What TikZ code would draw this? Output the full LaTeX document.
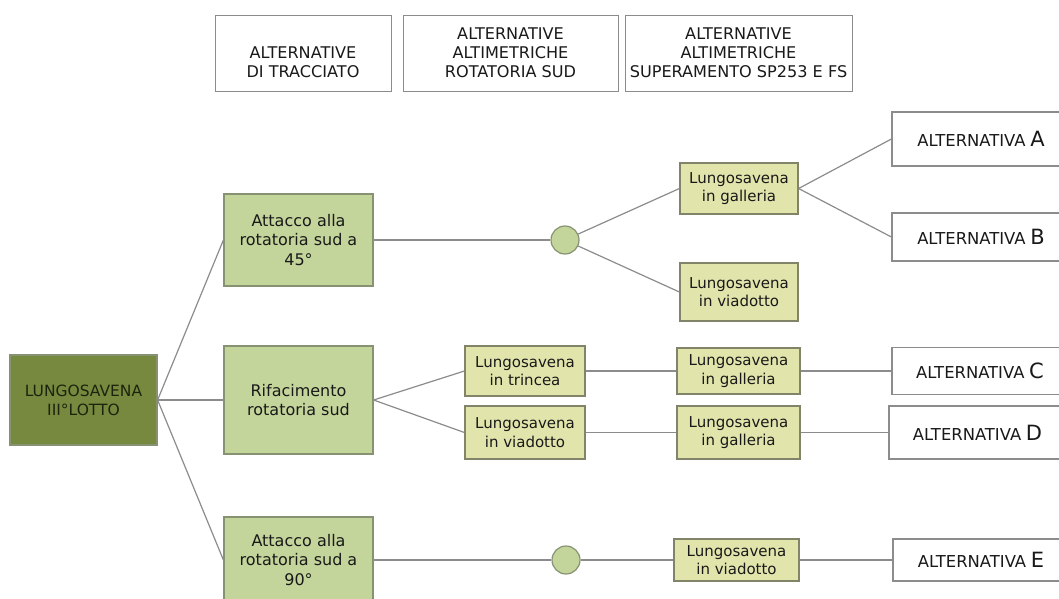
\documentclass[tikz,border=0pt]{standalone}
\usepackage{fontspec}
\setmainfont{DejaVu Sans}
\definecolor{rootfill}{RGB}{119,137,62}
\definecolor{roottext}{RGB}{28,36,14}
\definecolor{lonefill}{RGB}{196,213,155}
\definecolor{lonedraw}{RGB}{135,146,115}
\definecolor{ltwofill}{RGB}{226,229,171}
\definecolor{ltwodraw}{RGB}{130,132,105}
\definecolor{hdrdraw}{RGB}{140,140,140}
\definecolor{linecol}{RGB}{140,140,140}
\definecolor{txt}{RGB}{25,25,25}
\tikzset{
  base/.style={rectangle, inner sep=0pt, align=center, text=txt, line width=1.2pt,
    font=\fontsize{15}{18.5}\selectfont},
  hdrfont/.style={font=\fontsize{16.1}{19}\selectfont},
  hdr/.style={base, draw=hdrdraw, fill=white, line width=1pt, hdrfont},
  rootbox/.style={base, draw=lonedraw, fill=rootfill, text=roottext, font=\fontsize{15.5}{19}\selectfont},
  lone/.style={base, draw=lonedraw, fill=lonefill, font=\fontsize{16}{19.5}\selectfont},
  ltwo/.style={base, draw=ltwodraw, fill=ltwofill},
  altbox/.style={base, draw=hdrdraw, fill=white},
  knot/.style={circle, draw=lonedraw, fill=lonefill, line width=1.2pt, minimum size=28pt, inner sep=0pt},
  conn/.style={draw=linecol, line width=1.2pt}
}
\newcommand{\alttext}[1]{{\fontsize{16.4}{18}\selectfont ALTERNATIVA} {\fontsize{21}{21}\selectfont #1}}
\begin{document}
\begin{tikzpicture}[x=1pt,y=-1pt]
\useasboundingbox[fill=white] (0,0) rectangle (1059,598);
% headers
\node[hdr, minimum width=176pt, minimum height=76pt,
  label={[hdrfont, text=txt, align=center, inner sep=0pt, yshift=-9.5pt]center:ALTERNATIVE\\DI TRACCIATO}] (h1) at (303,53) {};
\node[hdr, minimum width=215pt, minimum height=76pt] (h2) at (510.5,53) {ALTERNATIVE\\ALTIMETRICHE\\ROTATORIA SUD};
\node[hdr, minimum width=227pt, minimum height=76pt] (h3) at (738.5,53) {ALTERNATIVE\\ALTIMETRICHE\\SUPERAMENTO SP253 E FS};
% root
\node[rootbox, minimum width=147pt, minimum height=90pt] (root) at (83.5,400) {LUNGOSAVENA\\III°LOTTO};
% level 1
\node[lone, minimum width=149pt, minimum height=92pt] (a45) at (298.5,240) {Attacco alla\\rotatoria sud a\\45°};
\node[lone, minimum width=149pt, minimum height=108pt] (rif) at (298.5,400) {Rifacimento\\rotatoria sud};
\node[lone, minimum width=149pt, minimum height=86pt] (a90) at (298.5,560) {Attacco alla\\rotatoria sud a\\90°};
% knots
\node[knot] (k1) at (565,240) {};
\node[knot] (k2) at (566,560) {};
% level 2
\node[ltwo, minimum width=118pt, minimum height=51pt] (gal1) at (739,188.5) {Lungosavena\\in galleria};
\node[ltwo, minimum width=118pt, minimum height=58pt] (via1) at (739,292) {Lungosavena\\in viadotto};
\node[ltwo, minimum width=120pt, minimum height=50pt] (trin) at (525,371) {Lungosavena\\in trincea};
\node[ltwo, minimum width=120pt, minimum height=53pt] (via2) at (525,432.5) {Lungosavena\\in viadotto};
\node[ltwo, minimum width=123pt, minimum height=46pt] (galC) at (738.5,371) {Lungosavena\\in galleria};
\node[ltwo, minimum width=123pt, minimum height=53pt] (galD) at (738.5,432.5) {Lungosavena\\in galleria};
\node[ltwo, minimum width=125pt, minimum height=42pt] (via3) at (736.5,560) {Lungosavena\\in viadotto};
% alternatives
\node[altbox, minimum width=178pt, minimum height=54pt] (altA) at (981,139) {\alttext{A}};
\node[altbox, minimum width=178pt, minimum height=48pt] (altB) at (981,237) {\alttext{B}};
\node[altbox, minimum width=176pt, minimum height=47pt] (altC) at (980,371) {\alttext{C}};
\node[altbox, minimum width=177pt, minimum height=53pt] (altD) at (977.5,432.5) {\alttext{D}};
\node[altbox, minimum width=176pt, minimum height=42pt] (altE) at (981,560) {\alttext{E}};
% connectors
\draw[conn] (root.east) -- (a45.west);
\draw[conn] (root.east) -- (rif.west);
\draw[conn] (root.east) -- (a90.west);
\draw[conn] (a45.east) -- (k1.west);
\draw[conn] (k1) -- (gal1.west);
\draw[conn] (k1) -- (via1.west);
\draw[conn] (gal1.east) -- (altA.west);
\draw[conn] (gal1.east) -- (altB.west);
\draw[conn] (rif.east) -- (trin.west);
\draw[conn] (rif.east) -- (via2.west);
\draw[conn] (trin.east) -- (galC.west);
\draw[conn] (galC.east) -- (altC.west);
\draw[conn] (via2.east) -- (galD.west);
\draw[conn] (galD.east) -- (altD.west);
\draw[conn] (a90.east) -- (k2.west);
\draw[conn] (k2.east) -- (via3.west);
\draw[conn] (via3.east) -- (altE.west);
\end{tikzpicture}
\end{document}
